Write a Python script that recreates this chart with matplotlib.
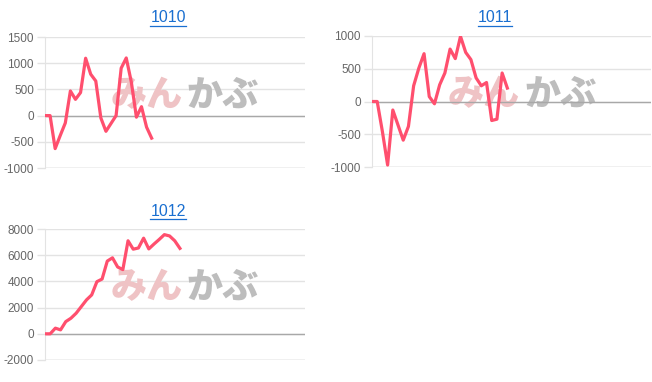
import matplotlib
matplotlib.use('Agg')
import matplotlib.pyplot as plt
from matplotlib.lines import Line2D

plt.rcParams['font.family'] = ['Liberation Sans', 'Noto Sans CJK JP', 'DejaVu Sans']

W, H = 652, 382

### chart values
titles = ['1010', '1011', '1012']

values_1010 = [0, 0, -630, -380, -140, 470, 310, 440, 1095, 790, 660, -45, -300, -150,
               0, 905, 1100, 640, -30, 170, -220, -430]
values_1011 = [0, 0, -460, -970, -130, -360, -590, -380, 240, 510, 730, 75, -35, 255,
               435, 800, 655, 995, 750, 640, 360, 240, 290, -290, -270, 435, 205]
values_1012 = [0, 0, 430, 300, 930, 1190, 1570, 2080, 2590, 2970, 3980, 4180, 5550, 5800,
               5100, 4900, 7100, 6460, 6550, 7300, 6480, 6850, 7200, 7570, 7470, 7100, 6520]

yticks_1010 = [-1000, -500, 0, 500, 1000, 1500]
yticks_1011 = [-1000, -500, 0, 500, 1000]
yticks_1012 = [-2000, 0, 2000, 4000, 6000, 8000]

series = [values_1010, values_1011, values_1012]
yticks = [yticks_1010, yticks_1011, yticks_1012]

# axes boxes in pixels: left, top, right, bottom, x-range
boxes = [(45, 37, 305, 168, 51.2),
         (372, 36, 651, 167, 53.6),
         (45, 229, 305, 360, 50.1)]
title_pos = [(168, 18), (495, 18), (168, 211)]

line_color = '#ff4f6e'
grid_color = '#e3e3e3'
label_color = '#666666'

fig = plt.figure(figsize=(W / 100, H / 100), dpi=100)

title_texts = []
for vals, ticks, box, tpos, name in zip(series, yticks, boxes, title_pos, titles):
    l, t, r, b, xmax = box
    ax = fig.add_axes([l / W, 1 - b / H, (r - l) / W, (b - t) / H])
    ax.plot(range(len(vals)), vals, color=line_color, lw=2.3, zorder=5)
    ax.set_xlim(0, xmax)
    ax.set_ylim(ticks[0], ticks[-1])
    ax.set_yticks(ticks)
    ax.set_yticklabels([str(v) for v in ticks])
    ax.set_xticks([])
    ax.yaxis.grid(True, color=grid_color, lw=1)
    ax.set_axisbelow(True)
    ax.axhline(0, color='#a8a8a8', lw=1, zorder=2)
    ax.axhline(ticks[0], color='#cccccc', lw=1, zorder=2)
    for s in ['top', 'right', 'bottom']:
        ax.spines[s].set_visible(False)
    ax.spines['left'].set_color(grid_color)
    ax.tick_params(axis='y', length=6, width=1, color=grid_color,
                   labelsize=8.5, labelcolor=label_color, pad=2)
    ax.patch.set_alpha(0)

    # watermark logo
    ax.text(0.53, 0.56, 'みん', transform=ax.transAxes, ha='right', va='center',
            fontsize=26, fontweight='heavy', color='#efc3c5', zorder=1,
            family=['Noto Sans CJK JP'])
    ax.text(0.545, 0.56, 'かぶ', transform=ax.transAxes, ha='left', va='center',
            fontsize=26, fontweight='heavy', color='#bdbdbd', zorder=1,
            family=['Noto Sans CJK JP'])

    tt = fig.text(tpos[0] / W, 1 - tpos[1] / H, name, ha='center', va='center',
                  fontsize=11.5, color='#1a6fd0')
    title_texts.append(tt)

# underline the titles
fig.canvas.draw()
renderer = fig.canvas.get_renderer()
for tt in title_texts:
    bb = tt.get_window_extent(renderer)
    y = (bb.y0 - 0.5) / H
    fig.add_artist(Line2D([bb.x0 / W, bb.x1 / W], [y, y], color='#1a6fd0', lw=0.9))

fig.savefig('out.png', dpi=100)
